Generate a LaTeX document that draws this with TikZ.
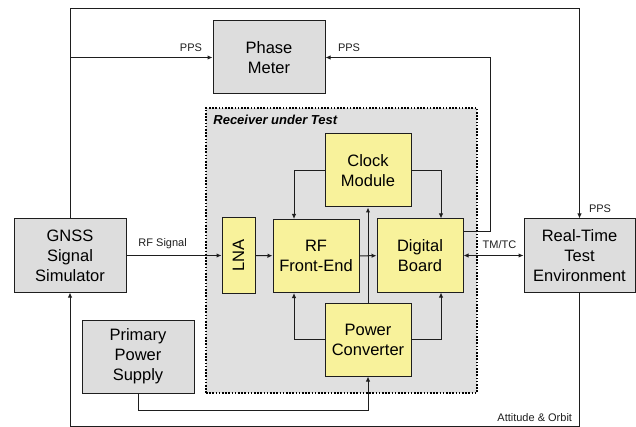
\documentclass[tikz,border=0pt]{standalone}
\usepackage{fontspec}
\setmainfont{Liberation Sans}
\usepackage{tikz}
\usetikzlibrary{shapes,arrows,arrows.meta}

\definecolor{boxGray}{RGB}{221,221,221}
\definecolor{rutGray}{RGB}{224,224,224}
\definecolor{boxYellow}{RGB}{248,242,155}
\definecolor{lineDark}{RGB}{30,30,30}

\begin{document}
\begin{tikzpicture}[x=1pt,y=-1pt]
			\useasboundingbox (0,0) rectangle (636,427);
			\begin{scope}
				[
					styleBox/.style={
						draw=lineDark, line width=1pt, align=center, inner sep=0pt,
						minimum width=112pt, minimum height=73pt,
						font=\fontsize{16.5}{20}\selectfont
						},
					styleTest/.style={styleBox, fill=boxGray},
					styleUnit/.style={styleBox, fill=boxYellow, minimum width=86pt},
					styleRut/.style={draw=black, line width=1.6pt, dash pattern=on 1.6pt off 1.6pt,
						fill=rutGray, minimum width=271pt, minimum height=285pt},
				]
				\node(rut)[styleRut] at (341.5,250.5) {};
				\node(rutlabel)[anchor=west, inner sep=0pt, font=\fontsize{13}{15}\selectfont\bfseries\itshape]
					at ([xshift=8pt,yshift=-13pt]rut.north west) {Receiver under Test};

				\node(phase)[styleTest] at (269,57.5) {Phase\\Meter};
				\node(gnss)[styleTest] at (70,255.5) {GNSS\\Signal\\Simulator};
				\node(primary)[styleTest] at (138,356.5) {Primary\\Power\\Supply};
				\node(rt)[styleTest, minimum width=111pt] at (579.5,255.5) {Real-Time\\Test\\Environment};

				\node(clock)[styleUnit] at (368,170.5) {Clock\\Module};
				\node(lna)[styleUnit, minimum width=33pt, minimum height=75pt] at (238.5,255.5)
					{\rotatebox{90}{LNA}};
				\node(rf)[styleUnit] at (316,256) {RF\\Front-End};
				\node(digital)[styleUnit] at (420,255.5) {Digital\\Board};
				\node(pc)[styleUnit] at (368,339.5) {Power\\Converter};

				\coordinate(topline) at (0,9);
				\coordinate(botline) at (0,426);
				\coordinate(pwrline) at (0,410);
				\coordinate(ppsbend) at (490,57.5);
			\end{scope}

			\begin{scope}
				[ arr/.style = {-{Latex[length=5pt,width=4.5pt]}},
					every path/.style={draw=lineDark, line width=1pt},
					lbl/.style={inner sep=0pt, text=lineDark, font=\fontsize{11}{13}\selectfont},
					>={Latex[length=5pt,width=4.5pt]}]
				\path
				(gnss) edge[arr]         node[lbl, above=6pt, pos=0.38]{RF Signal}(lna)
				(lna) edge[arr]          node{}(rf)
				(rf) edge[arr]           node{}(digital)
				(digital) edge[<->]      node[lbl, above=6pt, pos=0.6]{TM/TC}(rt)
				(pc) edge[arr]           node{}(clock);

				% clock and power distribution
				\draw[arr] (clock.west) -| ([xshift=-22pt]rf.north);
				\draw[arr] (clock.east) -| ([xshift=21pt]digital.north);
				\draw[arr] (pc.west) -| ([xshift=-22pt]rf.south);
				\draw[arr] (pc.east) -| ([xshift=21pt]digital.south);
				\draw[arr] (primary.south) |- (pwrline -| pc.south) -- (pc.south);

				% PPS lines
				\draw[arr] (gnss.north) |- (topline -| rt.north) -- (rt.north);
				\draw[arr] (gnss.north |- phase.west) -- (phase.west);
				\draw[arr] ([yshift=23.5pt]digital.east) -| (ppsbend) -- (phase.east);
				\node[lbl, anchor=south east] at ([xshift=-10pt,yshift=5pt]phase.west) {PPS};
				\node[lbl, anchor=south west] at ([xshift=12pt,yshift=5pt]phase.east) {PPS};
				\node[lbl, anchor=south west] at ([xshift=9pt,yshift=5pt]rt.north) {PPS};

				% attitude and orbit back to simulator
				\draw[arr] (rt.south) |- (botline -| gnss.south) -- (gnss.south);
				\node[lbl, anchor=south east] at ([xshift=-7pt,yshift=4pt]botline -| rt.south) {Attitude \& Orbit};
			\end{scope}
		\end{tikzpicture}
\end{document}
